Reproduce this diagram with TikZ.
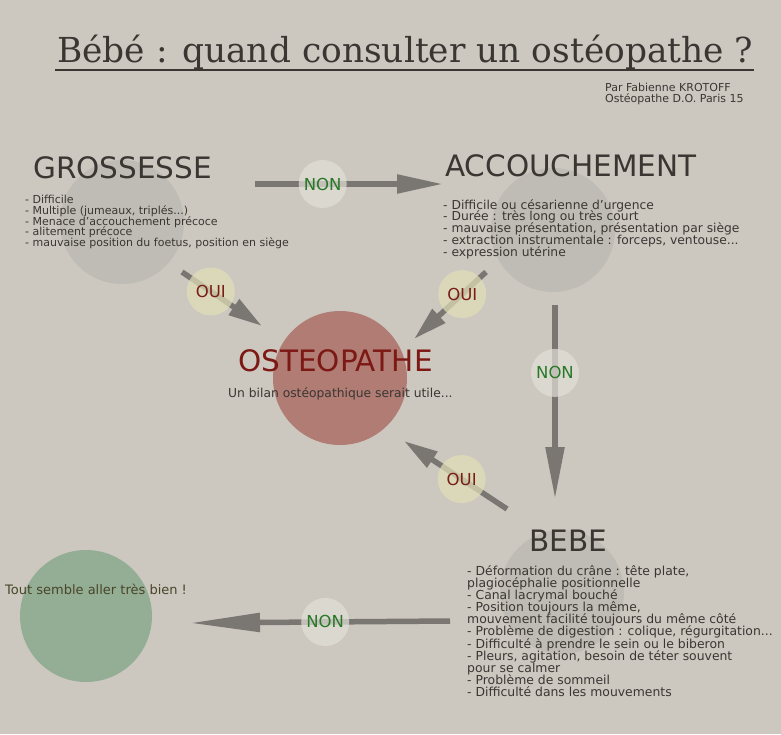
\documentclass[tikz,border=0pt]{standalone}
\usepackage{fontspec}
\setmainfont{DejaVu Sans}
\newfontfamily\titlefont{DejaVu Serif}
\usetikzlibrary{arrows.meta}
\definecolor{bgcolor}{RGB}{204,200,192}
\definecolor{inkcolor}{RGB}{58,54,50}
\definecolor{greycircle}{RGB}{191,188,182}
\definecolor{redcircle}{RGB}{176,124,116}
\definecolor{osteocolor}{RGB}{125,25,20}
\definecolor{greencircle}{RGB}{148,174,150}
\definecolor{nongreen}{RGB}{40,120,40}
\definecolor{ouired}{RGB}{120,30,20}
\definecolor{arrowgrey}{RGB}{122,119,115}
\definecolor{labelwhite}{RGB}{226,223,216}
\definecolor{labelyellow}{RGB}{226,223,184}
\newcommand\tightlines{\lineskiplimit=-10pt\relax}

\tikzset{
  bubble/.style={circle, inner sep=0pt, minimum size=#1},
  heading/.style={anchor=base west, inner sep=0pt, text=inkcolor,
                  font=\fontsize{29.5}{29.5}\selectfont},
  itemlist/.style={anchor=north west, inner sep=0pt, align=left, text=inkcolor},
  flowarrow/.style={draw=arrowgrey, line width=5.5pt,
                    -{Triangle[length=#1, width=18pt]}},
  flowarrow/.default=46pt,
  choice/.style={circle, minimum size=48pt, inner sep=0pt, fill opacity=0.7,
                 text opacity=1, font=\fontsize{16.5}{16.5}\selectfont},
  non/.style={choice, fill=labelwhite, text=nongreen},
  oui/.style={choice, fill=labelyellow, text=ouired},
}

\begin{document}
\begin{tikzpicture}[x=1pt, y=-1pt]
  \fill[bgcolor] (0,0) rectangle (781,734);
  \useasboundingbox (0,0) rectangle (781,734);

  % titre
  \node[anchor=base west, inner sep=0pt, text=inkcolor,
        font=\titlefont\fontsize{34.4}{34.4}\selectfont] (title) at (57,62)
       {Bébé : quand consulter un ostéopathe ?};
  \draw[inkcolor, line width=1.2pt] ([xshift=-2pt, yshift=-8pt]title.base west)
       -- ([yshift=-8pt]title.base east);
  \node[itemlist, font=\fontsize{11}{11.2}\selectfont\tightlines] (author) at (605,83)
       {Par Fabienne KROTOFF\\ Ostéopathe D.O. Paris 15};

  % cercles
  \node[bubble=124pt, fill=greycircle] (grossesse) at (122,222) {};
  \node[bubble=124pt, fill=greycircle] (accouchement) at (553,230) {};
  \node[bubble=134pt, fill=redcircle] (osteo) at (340,378) {};
  \node[bubble=124pt, fill=greycircle] (bebe) at (562,592) {};
  \node[bubble=132pt, fill=greencircle] (ok) at (86,616) {};

  % grossesse
  \node[heading] (grossesse title) at (33,178) {GROSSESSE};
  \node[itemlist, font=\fontsize{11}{10.8}\selectfont\tightlines] (grossesse list) at (25,195)
       {- Difficile\\
        - Multiple (jumeaux, triplés...)\\
        - Menace d'accouchement précoce\\
        - alitement précoce\\
        - mauvaise position du foetus, position en siège};

  % accouchement
  \node[heading] (accouchement title) at (445,176) {ACCOUCHEMENT};
  \node[itemlist, font=\fontsize{12.3}{11.9}\selectfont\tightlines] (accouchement list) at (443,199)
       {- Difficile ou césarienne d'urgence\\
        - Durée : très long ou très court\\
        - mauvaise présentation, présentation par siège\\
        - extraction instrumentale : forceps, ventouse...\\
        - expression utérine};

  % osteopathe
  \node[heading, text=osteocolor] (osteo title) at (238,371) {OSTEOPATHE};
  \node[anchor=base west, inner sep=0pt, text=inkcolor,
        font=\fontsize{12.3}{12.3}\selectfont] (osteo text) at (228,397)
       {Un bilan ostéopathique serait utile...};

  % bebe
  \node[heading] (bebe title) at (529,551) {BEBE};
  \node[itemlist, font=\fontsize{12.4}{12.15}\selectfont\tightlines] (bebe list) at (467,565)
       {- Déformation du crâne : tête plate,\\
        plagiocéphalie positionnelle\\
        - Canal lacrymal bouché\\
        - Position toujours la même,\\
        mouvement facilité toujours du même côté\\
        - Problème de digestion : colique, régurgitation...\\
        - Difficulté à prendre le sein ou le biberon\\
        - Pleurs, agitation, besoin de téter souvent\\
        pour se calmer\\
        - Problème de sommeil\\
        - Difficulté dans les mouvements};

  % tout va bien
  \node[anchor=base west, inner sep=0pt, text=inkcolor!80!olive,
        font=\fontsize{13}{13}\selectfont] (ok text) at (5,594)
       {Tout semble aller très bien !};

  % fleches
  \coordinate (g-non) at (255,184);
  \coordinate (a-in) at (443,184);
  \coordinate (g-oui) at (182,272);
  \coordinate (o-left) at (262,326);
  \coordinate (a-oui) at (486,272);
  \coordinate (o-right) at (414,339);
  \coordinate (a-non) at (555,305);
  \coordinate (b-in) at (555,499);
  \coordinate (b-oui) at (507,509);
  \coordinate (o-low) at (404,441);
  \coordinate (b-non) at (450,621);
  \coordinate (ok-in) at (190,623);

  \draw[flowarrow] (g-non) -- node[non, pos=0.36] {NON} (a-in);
  \draw[flowarrow=34pt] (g-oui) -- node[oui, pos=0.36] {OUI} (o-left);
  \draw[flowarrow=34pt] (a-oui) -- node[oui, pos=0.33] {OUI} (o-right);
  \draw[flowarrow=52pt] (a-non) -- node[non, pos=0.35] {NON} (b-in);
  \draw[flowarrow=34pt] (b-oui) -- node[oui, pos=0.44] {OUI} (o-low);
  \draw[flowarrow=70pt] (b-non) -- node[non, pos=0.48] {NON} (ok-in);
\end{tikzpicture}
\end{document}
